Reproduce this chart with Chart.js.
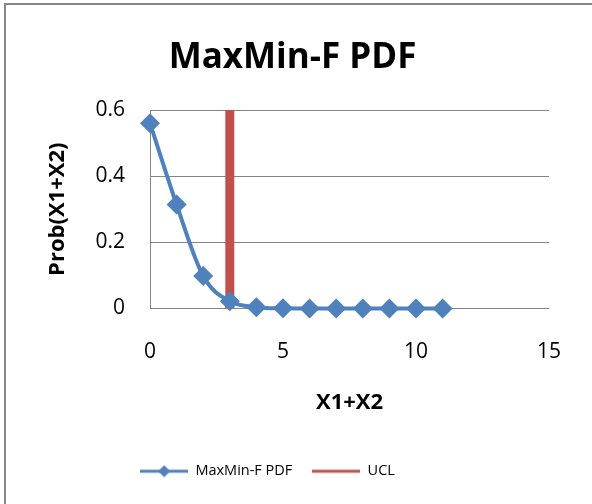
<!DOCTYPE html>
<html>
<head>
<meta charset="utf-8">
<script src="https://cdn.jsdelivr.net/npm/chart.js@4.4.1/dist/chart.umd.min.js"></script>
<style>
  html, body { margin: 0; padding: 0; background: #fff; }
  #wrap { width: 592px; height: 504px; }
</style>
</head>
<body>
<div id="wrap"><canvas id="pdfChart" width="592" height="504"></canvas></div>
<script>
// Distribution of X1+X2 and the control limit
const xValues = [0, 1, 2, 3, 4, 5, 6, 7, 8, 9, 10, 11];
const pdfValues = [0.56, 0.314, 0.098, 0.022, 0.004, 0.0006, 0.0001, 0, 0, 0, 0, 0];
const uclX = [3, 3];
const uclY = [0, 0.6];

const BLUE = '#4F81BD';
const RED = '#C0504D';
const GRID = '#868686';
const FONT = "'Open Sans', sans-serif";

// legend swatches: line with a diamond, and a plain line
function swatch(color, withMarker) {
  const c = document.createElement('canvas');
  c.width = 48; c.height = 16;
  const g = c.getContext('2d');
  g.strokeStyle = color;
  g.lineWidth = 3;
  g.beginPath(); g.moveTo(0, 8); g.lineTo(48, 8); g.stroke();
  if (withMarker) {
    g.fillStyle = color;
    g.beginPath();
    g.moveTo(24, 2); g.lineTo(30, 8); g.lineTo(24, 14); g.lineTo(18, 8);
    g.closePath(); g.fill();
  }
  return c;
}
const swatches = [swatch(BLUE, true), swatch(RED, false)];

// white background and the outer frame
const frame = {
  id: 'frame',
  beforeDraw(chart) {
    const ctx = chart.ctx;
    ctx.save();
    ctx.fillStyle = '#fff';
    ctx.fillRect(0, 0, chart.width, chart.height);
    ctx.strokeStyle = '#888';
    ctx.lineWidth = 2;
    ctx.beginPath();
    ctx.moveTo(5, chart.height);
    ctx.lineTo(5, 4);
    ctx.lineTo(chart.width, 4);
    ctx.stroke();
    ctx.restore();
  }
};

// title sits a little right of the plot centre, legend a little left
const nudge = {
  id: 'nudge',
  afterLayout(chart) {
    chart.titleBlock.left += 15;
    chart.titleBlock.right += 15;
    chart.legend.left -= 10;
    chart.legend.right -= 10;
  }
};

new Chart(document.getElementById('pdfChart'), {
  type: 'scatter',
  data: {
    datasets: [{
      label: 'MaxMin-F PDF',
      data: xValues.map((x, i) => ({ x: x, y: pdfValues[i] })),
      showLine: true,
      borderColor: BLUE,
      backgroundColor: BLUE,
      borderWidth: 4,
      pointStyle: 'rectRot',
      pointRadius: 10,
      pointHoverRadius: 10,
      pointBorderWidth: 0,
      cubicInterpolationMode: 'monotone',
      clip: false
    }, {
      label: 'UCL',
      data: uclX.map((x, i) => ({ x: x, y: uclY[i] })),
      showLine: true,
      borderColor: RED,
      backgroundColor: RED,
      borderWidth: 9,
      borderCapStyle: 'butt',
      pointRadius: 0,
      pointHoverRadius: 0,
      clip: false
    }]
  },
  options: {
    responsive: false,
    animation: false,
    events: [],
    layout: { padding: { left: 0, right: 37, top: 0, bottom: 15.5 } },
    plugins: {
      title: {
        display: true,
        text: 'MaxMin-F PDF',
        color: '#000',
        font: { family: FONT, size: 35, weight: 'bold', lineHeight: 1.2 },
        padding: { top: 37, bottom: 31 }
      },
      legend: {
        display: true,
        position: 'bottom',
        labels: {
          color: '#000',
          font: { family: FONT, size: 14.5 },
          usePointStyle: true,
          pointStyleWidth: 48,
          boxHeight: 15,
          padding: 20,
          generateLabels(chart) {
            const items = Chart.defaults.plugins.legend.labels.generateLabels(chart);
            items.forEach((it, i) => { it.pointStyle = swatches[i]; });
            return items;
          }
        }
      },
      tooltip: { enabled: false }
    },
    scales: {
      x: {
        type: 'linear',
        min: 0,
        max: 15,
        ticks: { stepSize: 5, padding: 31, color: '#000', font: { family: FONT, size: 21 } },
        grid: { display: false, drawTicks: false },
        border: { display: true, color: GRID, width: 1 },
        title: {
          display: true,
          text: 'X1+X2',
          color: '#000',
          font: { family: FONT, size: 22, weight: 'bold', lineHeight: 1.2 },
          padding: { top: 0, bottom: 28 }
        },
        afterFit(scale) { scale.height = 135.5; }
      },
      y: {
        min: 0,
        max: 0.6,
        ticks: { stepSize: 0.2, padding: 25, color: '#000', font: { family: FONT, size: 21 } },
        grid: { color: GRID, lineWidth: 1, drawTicks: false },
        border: { display: true, color: GRID, width: 1 },
        title: {
          display: true,
          text: 'Prob(X1+X2)',
          color: '#000',
          font: { family: FONT, size: 22, weight: 'bold', lineHeight: 1.2 },
          padding: { top: 45, bottom: 0 }
        },
        afterFit(scale) { scale.width = 150; }
      }
    }
  },
  plugins: [frame, nudge]
});
</script>
</body>
</html>
